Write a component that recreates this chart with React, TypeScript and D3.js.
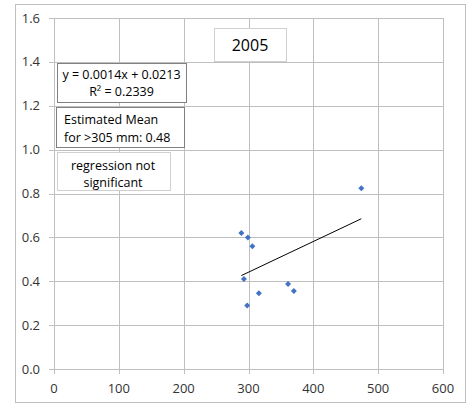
import { useEffect, useRef } from 'react';
import * as d3 from 'd3';

// rainfall (mm) vs. yield, 2005
const rainfall = [289, 299, 306, 293, 298, 316, 361, 370, 474];
const yieldValues = [0.62, 0.6, 0.56, 0.41, 0.29, 0.345, 0.387, 0.355, 0.824];
const xTicks = [0, 100, 200, 300, 400, 500, 600];
const yTicks = [0, 0.2, 0.4, 0.6, 0.8, 1.0, 1.2, 1.4, 1.6];
const slope = 0.0014;
const intercept = 0.0213;
const titleText = '2005';
const equationLines = ['y = 0.0014x + 0.0213', 'R² = 0.2339'];
const meanLines = ['Estimated Mean', 'for >305 mm: 0.48'];
const noteLines = ['regression not', 'significant'];

const FONT = '"Open Sans", "Noto Sans", sans-serif';

const ScatterChart: React.FC = () => {
  const svgRef = useRef<SVGSVGElement | null>(null);

  useEffect(() => {
    if (!svgRef.current) return;
    const width = 472;
    const height = 406;
    const margin = { left: 54, right: 29, top: 18, bottom: 37 };

    const root = d3.select(svgRef.current);
    root.selectAll('*').remove();
    root.attr('width', width).attr('height', height);

    root
      .append('rect')
      .attr('x', 15.5)
      .attr('y', 4.5)
      .attr('width', 450)
      .attr('height', 398)
      .attr('fill', '#fff')
      .attr('stroke', '#bfbfbf');

    const x = d3.scaleLinear().domain([0, 600]).range([margin.left, width - margin.right]);
    const y = d3.scaleLinear().domain([0, 1.6]).range([height - margin.bottom, margin.top]);

    // grid
    const grid = root.append('g').attr('stroke', '#bfbfbf').attr('stroke-width', 1);
    xTicks.forEach((t) => {
      grid
        .append('line')
        .attr('x1', Math.round(x(t)) + 0.5)
        .attr('x2', Math.round(x(t)) + 0.5)
        .attr('y1', y(1.6))
        .attr('y2', y(0) + 5);
    });
    yTicks.forEach((t) => {
      grid
        .append('line')
        .attr('x1', x(0) - 5)
        .attr('x2', x(600))
        .attr('y1', Math.round(y(t)) + 0.5)
        .attr('y2', Math.round(y(t)) + 0.5);
    });

    // tick labels
    root
      .append('g')
      .selectAll('text')
      .data(yTicks)
      .join('text')
      .attr('x', 40)
      .attr('y', (d) => y(d))
      .attr('dy', '0.35em')
      .attr('text-anchor', 'end')
      .attr('font-family', FONT)
      .attr('font-size', 13)
      .attr('fill', '#333')
      .text((d) => d3.format('.1f')(d));

    root
      .append('g')
      .selectAll('text')
      .data(xTicks)
      .join('text')
      .attr('x', (d) => x(d))
      .attr('y', y(0) + 24)
      .attr('text-anchor', 'middle')
      .attr('font-family', FONT)
      .attr('font-size', 13)
      .attr('fill', '#333')
      .text((d) => String(d));

    // trendline
    const xMin = d3.min(rainfall)!;
    const xMax = d3.max(rainfall)!;
    root
      .append('line')
      .attr('x1', x(xMin))
      .attr('y1', y(slope * xMin + intercept))
      .attr('x2', x(xMax))
      .attr('y2', y(slope * xMax + intercept))
      .attr('stroke', '#000')
      .attr('stroke-width', 1);

    // points
    const diamond = d3.symbol().type(d3.symbolSquare).size(18);
    root
      .append('g')
      .selectAll('path')
      .data(rainfall.map((r, i) => [r, yieldValues[i]]))
      .join('path')
      .attr('d', diamond)
      .attr('transform', (d) => `translate(${x(d[0])},${y(d[1])}) rotate(45)`)
      .attr('fill', '#4472c4');

    // text boxes
    const box = (
      bx: number,
      by: number,
      bw: number,
      bh: number,
      stroke: string,
      lines: string[],
      align: 'middle' | 'start',
      fontSize: number,
      tx: number,
      lineYs: number[]
    ) => {
      root
        .append('rect')
        .attr('x', bx + 0.5)
        .attr('y', by + 0.5)
        .attr('width', bw)
        .attr('height', bh)
        .attr('fill', '#fff')
        .attr('stroke', stroke);
      lines.forEach((l, i) => {
        root
          .append('text')
          .attr('x', tx)
          .attr('y', lineYs[i])
          .attr('dy', '0.35em')
          .attr('text-anchor', align)
          .attr('font-family', FONT)
          .attr('font-size', fontSize)
          .attr('fill', '#000')
          .text(l);
      });
    };

    box(214, 28, 72, 33, '#d0d0d0', [titleText], 'middle', 16, 250, [45]);
    box(57, 63, 129, 39, '#808080', equationLines, 'middle', 12.5, 121.5, [75, 92]);
    box(56, 107, 128, 40, '#808080', meanLines, 'start', 12.5, 64, [120, 138]);
    box(57, 152, 113, 38, '#d0d0d0', noteLines, 'middle', 12.5, 113, [166, 183]);
  }, []);

  return <svg ref={svgRef} style={{ position: 'absolute', left: 0, top: 0 }} />;
};

export default function App() {
  return <ScatterChart />;
}
